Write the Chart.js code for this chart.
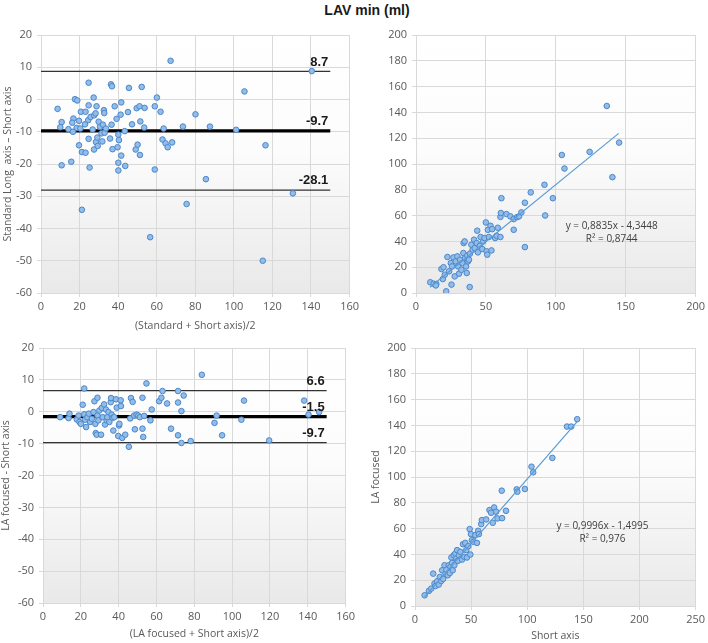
<!DOCTYPE html>
<html>
<head>
<meta charset="utf-8">
<script src="https://cdn.jsdelivr.net/npm/chart.js@4.4.0/dist/chart.umd.min.js"></script>
<style>
  html, body { margin: 0; padding: 0; background: #fff; overflow: hidden; }
  body { width: 708px; height: 643px; position: relative; }
  canvas { position: absolute; }
  #title { position: absolute; left: 0; top: 2px; width: 734px; text-align: center;
           font: bold 14px "Liberation Sans", Arial, sans-serif; color: #1a1a1a; line-height: 16px; }
</style>
</head>
<body>
<div id="title">LAV min (ml)</div>
<canvas id="c1"></canvas>
<canvas id="c2"></canvas>
<canvas id="c3"></canvas>
<canvas id="c4"></canvas>
<script>
// top-left: Bland-Altman, standard long axis vs short axis
const stdMean = [8.6,10.7,10,10.7,14.2,15.7,16.8,16.2,16.6,17.6,18.8,18.5,19.7,19.7,20.4,20.7,21.2,21.2,23.1,23.1,22.8,24.7,24.7,24.7,24.5,25.2,25.7,26.8,27.3,27.6,27.5,28.5,28.8,28.3,29.2,29.4,29.9,30.6,31.4,31.8,32.1,32.6,32.8,33,33.7,35.8,36.3,36.8,36.6,37.1,38.2,39.2,39.7,40.1,40.4,40.1,40.1,41.3,41.6,41.6,43.4,43.7,45.1,45.6,47.2,49.1,49.6,50.1,51.1,51.3,51.5,52.2,53.5,53.7,56.6,59,59,60.1,62,63,63.6,64.6,65.7,67.2,68,73.6,75.5,80.1,85.5,87.6,101.2,105.5,116.4,115,130.6,140.4];
const stdDiff = [-2.9,-7.0,-8.6,-20.4,-9.2,-19.3,-5.9,-7.2,-10,0.1,-0.3,-8.8,-6.6,-14.2,-9,-3.8,-16.3,-34.2,-16.5,-3.8,-7.7,5.2,-1.8,-12.2,-6.4,-21.1,-5.4,-9.3,0.6,-4.9,-15.5,-13.2,-2.1,-4.3,-11.8,-14.4,-6.9,-8.5,-10.5,-13,-7.8,-3.3,-4.2,-10.3,-9,-12.1,4.7,4.1,-7.8,-15.4,-2.1,-6,-14.8,-10.9,-12.6,-19.6,-22,-4.7,-0.9,-17.4,-9.8,-20.6,-3.9,3.6,-7.7,-15.5,-2.7,-14,-2.1,-17.2,-6.8,3.9,-8.7,-2.6,-42.7,-2.1,-21.7,0.6,-3.8,-12.4,-9,-13.6,-14.8,12,-13.3,-8.4,-32.4,-4.6,-24.7,-8.4,-9.4,2.5,-14.2,-50,-29.1,8.8];
const stdLimits = [8.7, -9.7, -28.1];   // upper LoA, mean, lower LoA

// top-right: standard long axis against short axis
const stdShort = [10.2,12.6,14.5,14.2,21.6,25.4,18.2,19.7,19.2,20.6,22.5,23.7,24.9,25.8,26.8,27.7,28.4,29.6,30.1,30.8,31.5,32.5,33.2,33.9,34.1,34.8,35.1,35.8,36.3,36.7,37.2,38.4,37.9,38.6,39.6,40.5,41.5,42,43.4,43.8,44.3,45.7,46.2,47.4,48.1,49,50,50.5,51,51.4,52.1,53.3,54,54.5,56.6,57.6,58.5,60.4,60.4,60.7,61.1,64.7,67.5,69.9,69.9,72.3,73.7,75.4,77.9,77.9,82.1,91.9,92.4,97.9,104.3,106.2,124.2,136.5,140.5,145.3];
const stdLong = [8.3,7.2,7,5.9,1.3,6.5,18.6,20,10.8,14.2,27.9,16.8,23.2,20.6,27.6,12.9,24.5,28.4,20.6,15,25.8,18,23.2,31,38.7,40,27,20.6,15.5,28.9,24.5,4.6,25.8,30.5,37.4,33.5,41.3,34.8,38.7,48.3,31.5,36.6,43.4,34.1,40,42.6,54.7,32.3,29.7,49,43.4,52.1,33,49.5,42.6,44.4,50.6,43.4,59,62,73.5,61.2,59.4,57.3,49,58.8,59.4,62.5,35.6,70,78,83.9,60.1,73.5,107,96.5,109.4,145,89.8,116.6];
const stdFit = [0.8835, -4.3448];       // slope, intercept
const stdFitRange = [10, 145];
const stdEq = ['y = 0,8835x - 4,3448', 'R² = 0,8744'];

// bottom-left: Bland-Altman, LA focused vs short axis
const focMean = [9.1,13.5,14,17.9,18.8,19.3,20,21,21.8,21.8,22.3,22.8,23.5,24.2,24.9,25.8,26.7,27.2,27.7,27.9,28.4,28.8,28.8,29.3,29.8,30.7,31.1,31.6,32.3,32.8,33.3,33.7,34,34.6,35.1,35.8,36,36.3,36.8,37.2,37.7,38.6,39,39.8,40.2,40.4,41.1,41.2,41.9,43.5,45.4,46.1,46.5,47.4,48.2,48.6,49.5,50.4,51.2,52.6,52.6,53,53.5,54.7,56.8,57.5,61.4,62.6,63.2,65.6,67.7,71.4,71.4,71.4,73.2,73.2,74.4,78.1,84,90.7,91.8,94.7,104.9,106.3,119.6,138.1,140.4,146];
const focDiff = [-1.7,-2,-0.6,-2.4,-1.2,-3.2,-3.8,2.2,7.3,-0.8,-2.5,-4.8,-1.7,-0.6,-3.2,-2.2,-0.1,3.3,-3.8,-6.7,-7.2,4.4,-1.2,-2.7,0.4,-7.2,1.2,-1.7,2.3,-4,0.7,-2.7,-1.7,-0.1,-3.2,3,4.3,-0.9,-1.9,-5.9,-1.7,3.9,1.3,-7.6,-4.3,-3.8,3.6,1.8,-8.2,-7.2,-11,-2.1,4.3,3.1,-1.2,-5.5,-0.9,-1.2,-1.7,4.4,-5.3,-7.9,-1.3,8.9,-2.7,0.7,3.3,4.4,6.5,2.6,-5.3,6.5,2.9,-7.4,0.2,-9.8,5.1,-9.2,11.6,-3.5,-1.2,-7.4,-2.5,3.5,-9,3.5,-0.9,-0.1];
const focLimits = [6.6, -1.5, -9.7];

// bottom-right: LA focused against short axis
const focShort = [8.6,12.4,14.5,16.2,17.4,18.3,19.8,21.2,22.1,23.3,24.2,25.1,26.3,27.1,28,29.2,30.1,31,31.6,32.4,33,33.6,34.5,35.1,36,36.9,37.5,38.3,39.2,40.4,41.9,42.8,44,44.8,45.7,46.3,47.5,48.7,49.3,49.9,50.7,52.2,53.7,55.2,56.3,56.9,59,59.6,63.4,66.4,67.8,69.3,70.5,72.3,73.5,77.3,77.6,81.1,90.6,91.2,97.9,103.8,105.3,122.4,135.4,139.2,144.5];
const focLA = [8.3,11.7,13.5,25.1,17.4,15.5,19.2,16.6,22.5,19.4,27.7,21,31.6,25.1,28.2,23.8,31.6,25.6,30.3,37.6,33.4,27.7,39.4,31.6,40.7,36.8,43.3,35,39.4,42,36,47.9,38.1,48.9,43.3,37.6,46.4,59.6,39.9,55.7,51,49.7,54.9,48.9,58.3,55.7,63.5,66.6,67.1,74.4,72.3,64.5,76.4,73.1,67.9,89.4,68.1,73.8,90.4,88.6,90.7,108,103.6,114.8,139.1,139.1,144.8];
const focFit = [0.9996, -1.4995];
const focFitRange = [8.6, 144.5];
const focEq = ['y = 0,9996x - 1,4995', 'R² = 0,976'];

const limitRange = [0, 150];

const tickFont = { family: '"Open Sans", "Liberation Sans", sans-serif', size: 11 };
const titleFont = { family: '"Open Sans", "Liberation Sans", sans-serif', size: 10.5 };
const grey = '#595959';
const gridColor = '#D9D9D9';

const plotBg = {
  id: 'plotBg',
  beforeDraw(chart) {
    const { ctx, chartArea: a } = chart;
    const g = ctx.createLinearGradient(0, a.top, 0, a.bottom);
    g.addColorStop(0, '#FFFFFF');
    g.addColorStop(0.45, '#FCFCFC');
    g.addColorStop(1, '#E9E9E9');
    ctx.save();
    ctx.fillStyle = g;
    ctx.fillRect(a.left, a.top, a.right - a.left, a.bottom - a.top);
    ctx.restore();
  }
};

// bold numbers sitting above the ends of the mean / limit lines
const limitLabels = {
  id: 'limitLabels',
  afterDatasetsDraw(chart, args, opts) {
    if (!opts.values) return;
    const { ctx, scales: { x, y } } = chart;
    ctx.save();
    ctx.font = 'bold 13px "Liberation Sans", Arial, sans-serif';
    ctx.fillStyle = '#1a1a1a';
    ctx.textAlign = 'right';
    ctx.textBaseline = 'bottom';
    opts.values.forEach(v => {
      ctx.fillText(v.toFixed(1), x.getPixelForValue(opts.at) - 2, y.getPixelForValue(v) - 3);
    });
    ctx.restore();
  }
};

const eqText = {
  id: 'eqText',
  afterDatasetsDraw(chart, args, opts) {
    if (!opts.lines) return;
    const { ctx, scales: { x, y } } = chart;
    ctx.save();
    ctx.font = '10px "Open Sans", "Liberation Sans", sans-serif';
    ctx.fillStyle = '#404040';
    ctx.textAlign = 'center';
    ctx.textBaseline = 'middle';
    const px = x.getPixelForValue(opts.x), py = y.getPixelForValue(opts.y);
    opts.lines.forEach((t, i) => ctx.fillText(t, px, py + i * 13));
    ctx.restore();
  }
};

function axis(min, max, step, title, size, horizontal) {
  return {
    type: 'linear', min: min, max: max,
    ticks: { stepSize: step, font: tickFont, color: grey, padding: horizontal ? 3 : 5 },
    grid: { color: gridColor, tickLength: 4 },
    border: { color: gridColor },
    title: { display: !!title, text: title, font: titleFont, color: grey,
             padding: horizontal ? { top: 0, bottom: 2 } : { top: 2, bottom: 0 } },
    afterFit(s) { if (horizontal) s.height = size; else s.width = size; }
  };
}

// box = canvas on the page, area = wanted plot area on the page
function panel(id, box, area, xs, ys, o) {
  const cv = document.getElementById(id);
  cv.width = box.w; cv.height = box.h;
  cv.style.left = box.x + 'px';
  cv.style.top = box.y + 'px';

  const datasets = [];
  if (o.fit) {
    datasets.push({
      data: o.fitRange.map(v => ({ x: v, y: o.fit[0] * v + o.fit[1] })),
      showLine: true, borderColor: '#5B9BD5', borderWidth: 1.2, pointRadius: 0
    });
  }
  datasets.push({
    data: xs.map((v, i) => ({ x: v, y: ys[i] })),
    backgroundColor: '#93BCE8', borderColor: '#4A88CC', borderWidth: 1, pointRadius: 2.8
  });
  if (o.limits) {
    o.limits.forEach((v, i) => {
      datasets.push({
        data: limitRange.map(xv => ({ x: xv, y: v })),
        showLine: true, borderColor: i === 1 ? '#000000' : '#333333',
        borderWidth: i === 1 ? 3.2 : 1.3, pointRadius: 0
      });
    });
  }

  new Chart(cv, {
    type: 'scatter',
    data: { datasets: datasets },
    options: {
      responsive: false,
      animation: false,
      layout: { padding: { left: 0, top: area.t - box.y, right: box.x + box.w - area.r, bottom: 0 } },
      scales: {
        x: axis(o.x[0], o.x[1], o.x[2], o.xTitle, box.y + box.h - area.b, true),
        y: axis(o.y[0], o.y[1], o.y[2], o.yTitle, area.l - box.x, false)
      },
      plugins: {
        legend: { display: false },
        tooltip: { enabled: false },
        limitLabels: o.limits ? { values: o.limits, at: limitRange[1] } : {},
        eqText: o.eq ? { lines: o.eq.lines, x: o.eq.x, y: o.eq.y } : {}
      }
    },
    plugins: [plotBg, limitLabels, eqText]
  });
}

panel('c1', { x: 0, y: 20, w: 362, h: 314 }, { l: 41, r: 350, t: 35, b: 293 }, stdMean, stdDiff, {
  x: [0, 160, 20], y: [-60, 20, 10],
  xTitle: '(Standard + Short axis)/2', yTitle: 'Standard Long  axis – Short axis',
  limits: stdLimits
});
panel('c2', { x: 360, y: 20, w: 348, h: 300 }, { l: 416, r: 697, t: 35, b: 293 }, stdShort, stdLong, {
  x: [0, 200, 50], y: [0, 200, 20],
  fit: stdFit, fitRange: stdFitRange,
  eq: { lines: stdEq, x: 140, y: 52 }
});
panel('c3', { x: -2, y: 330, w: 360, h: 312 }, { l: 43, r: 347, t: 348, b: 603 }, focMean, focDiff, {
  x: [0, 160, 20], y: [-60, 20, 10],
  xTitle: '(LA focused + Short axis)/2', yTitle: 'LA focused - Short axis',
  limits: focLimits
});
panel('c4', { x: 368, y: 330, w: 340, h: 314 }, { l: 415, r: 697, t: 348, b: 606 }, focShort, focLA, {
  x: [0, 250, 50], y: [0, 200, 20],
  xTitle: 'Short axis', yTitle: 'LA focused',
  fit: focFit, fitRange: focFitRange,
  eq: { lines: focEq, x: 167, y: 62 }
});
</script>
</body>
</html>
